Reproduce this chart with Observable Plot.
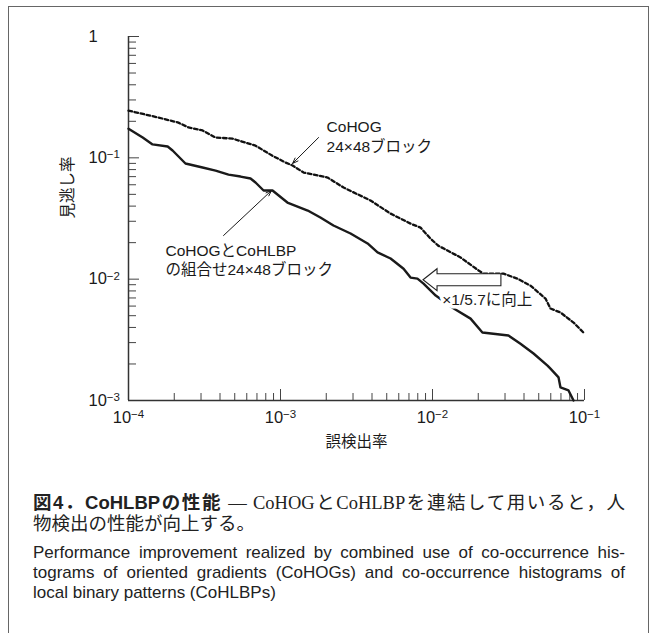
<!DOCTYPE html>
<html>
<head>
<meta charset="utf-8">
<script src="https://cdn.jsdelivr.net/npm/d3@7"></script>
<script src="https://cdn.jsdelivr.net/npm/@observablehq/plot@0.6"></script>
<style>
  html, body { margin: 0; padding: 0; background: #fff; }
  body { width: 653px; height: 633px; position: relative; overflow: hidden; }
  #frame { position: absolute; left: 8px; top: 6px; width: 639px; height: 700px; border: 1px solid #666; border-bottom: none; }
  #chart { position: absolute; left: 0; top: 0; }
  #cap { position: absolute; left: 33px; top: 492px; width: 592px; color: #222; }
  .ja { font-size: 18.5px; line-height: 21px; font-family: "Liberation Serif", "Noto Sans CJK JP", serif; }
  .ja .b { font-family: "Liberation Sans", "Noto Sans CJK JP", sans-serif; font-weight: bold; }
  .en { margin-top: 8px; font-size: 17px; line-height: 20px; font-family: "Liberation Sans", "Noto Sans CJK JP", sans-serif; }
  .just { text-align: justify; text-align-last: justify; white-space: nowrap; }
</style>
</head>
<body>
<div id="frame"></div>
<div id="chart"></div>
<div id="cap">
  <div class="ja just"><span class="b">図4．CoHLBPの性能</span> — CoHOGとCoHLBPを連結して用いると，人</div>
  <div class="ja">物検出の性能が向上する。</div>
  <div class="en">
    <div class="just">Performance improvement realized by combined use of co-occurrence his-</div>
    <div class="just">tograms of oriented gradients (CoHOGs) and co-occurrence histograms of</div>
    <div>local binary patterns (CoHLBPs)</div>
  </div>
</div>
<script>
// ---- data ----
const cohogFPR  = [1.0e-4, 1.57e-4, 2.13e-4, 2.48e-4, 3.07e-4, 3.74e-4, 4.83e-4, 6.85e-4, 8.86e-4, 1.08e-3, 1.20e-3, 1.42e-3, 2.04e-3, 2.60e-3, 3.91e-3, 5.30e-3, 7.17e-3, 8.34e-3, 9.70e-3, 1.09e-2, 1.53e-2, 2.01e-2, 2.17e-2, 2.93e-2, 3.62e-2, 4.41e-2, 5.54e-2, 5.97e-2, 6.95e-2, 8.47e-2, 9.85e-2];
const cohogMiss = [0.245, 0.215, 0.195, 0.178, 0.168, 0.147, 0.144, 0.126, 0.104, 0.0915, 0.0864, 0.0757, 0.0688, 0.0569, 0.0445, 0.0347, 0.0287, 0.0266, 0.0216, 0.0189, 0.0151, 0.0118, 0.0111, 0.0111, 0.0101, 0.00885, 0.00692, 0.00573, 0.00531, 0.00439, 0.00363];

const combFPR  = [1.0e-4, 1.24e-4, 1.44e-4, 1.81e-4, 1.95e-4, 2.37e-4, 3.07e-4, 3.74e-4, 4.55e-4, 5.46e-4, 6.35e-4, 6.85e-4, 7.74e-4, 8.86e-4, 1.11e-3, 1.51e-3, 1.83e-3, 2.23e-3, 2.89e-3, 3.74e-3, 4.35e-3, 5.30e-3, 6.45e-3, 7.17e-3, 7.96e-3, 8.73e-3, 1.05e-2, 1.38e-2, 1.78e-2, 2.13e-2, 3.16e-2, 3.79e-2, 4.62e-2, 5.71e-2, 5.97e-2, 6.75e-2, 6.95e-2, 7.85e-2, 8.47e-2];
const combMiss = [0.174, 0.147, 0.129, 0.124, 0.115, 0.0898, 0.0832, 0.0785, 0.0728, 0.0701, 0.0675, 0.0626, 0.0538, 0.0538, 0.0428, 0.0368, 0.0322, 0.0277, 0.0238, 0.0197, 0.0166, 0.0148, 0.0122, 0.0103, 0.0101, 0.0092, 0.00733, 0.00573, 0.00473, 0.00363, 0.00343, 0.00294, 0.00244, 0.00194, 0.00183, 0.00155, 0.00128, 0.00121, 0.001];

const xDecades = [1e-4, 1e-3, 1e-2, 1e-1];
const xTickLabels = ["10^−4", "10^−3", "10^−2", "10^−1"];
const yDecades = [1e-3, 1e-2, 1e-1, 1];
const yTickLabels = ["10^−3", "10^−2", "10^−1", "1"];
const minorSteps = [2, 3, 4, 5, 6, 7, 8, 9];

const xTitle = "誤検出率";
const yTitle = "見逃し率";

const noteText = ["CoHOG", "24×48ブロック", "CoHOGとCoHLBP", "の組合せ24×48ブロック"];
const noteX    = [2.01e-3, 2.01e-3, 1.75e-4, 1.75e-4];
const noteY    = [0.178, 0.1216, 0.0172, 0.0118];

const gainText = "×1/5.7に向上";
const gainX = 1.16e-2;
const gainY = 0.00679;

const arrowX1 = [1.78e-3, 4.22e-4];
const arrowY1 = [0.147, 0.0229];
const arrowX2 = [1.20e-3, 8.73e-4];
const arrowY2 = [0.0898, 0.0538];

const bigArrowTail = 2.84e-2;
const bigArrowTip = 8.73e-3;
const bigArrowY = 0.0098;

// ---- build tables ----
const cohog = cohogFPR.map((x, i) => ({x, y: cohogMiss[i]}));
const comb = combFPR.map((x, i) => ({x, y: combMiss[i]}));
const xMinor = xDecades.slice(0, -1).flatMap(d => minorSteps.map(k => d * k));
const yMinor = yDecades.slice(0, -1).flatMap(d => minorSteps.map(k => d * k));
const notes = noteText.map((t, i) => ({t, x: noteX[i], y: noteY[i]}));
const arrows = arrowX1.map((x1, i) => ({x1, y1: arrowY1[i], x2: arrowX2[i], y2: arrowY2[i]}));

const W = 653, H = 470, ML = 128, MR = 69, MT = 36, MB = 70;
const PW = W - ML - MR, PH = H - MT - MB;
const ink = "#1a1a1a", axisInk = "#333";
const font = "'Liberation Sans','Noto Sans CJK JP',sans-serif";

const bigArrow = (index, scales) => {
  const tip = scales.x(bigArrowTip), tail = scales.x(bigArrowTail), cy = scales.y(bigArrowY);
  const hl = 14, hw = 11, sw = 6;
  const d = `M${tip},${cy}L${tip+hl},${cy-hw}L${tip+hl},${cy-sw}L${tail},${cy-sw}L${tail},${cy+sw}L${tip+hl},${cy+sw}L${tip+hl},${cy+hw}Z`;
  return d3.create("svg:path").attr("d", d).attr("fill", "#fff").attr("stroke", "#222").attr("stroke-width", 1.1).attr("stroke-linejoin", "miter").node();
};

const chart = Plot.plot({
  width: W, height: H,
  marginLeft: ML, marginRight: MR, marginTop: MT, marginBottom: MB,
  style: {fontFamily: font, fontSize: "15px", color: ink, background: "transparent", overflow: "visible"},
  x: {type: "log", domain: [1e-4, 1e-1], axis: null},
  y: {type: "log", domain: [1e-3, 1], axis: null},
  marks: [
    // ticks (inward)
    Plot.ruleX(xMinor, {x: d => d, insetTop: PH - 7, stroke: "#444", strokeWidth: 1}),
    Plot.ruleX(xDecades, {x: d => d, insetTop: PH - 11, stroke: "#444", strokeWidth: 1}),
    Plot.ruleY(yMinor, {y: d => d, insetRight: PW - 8, stroke: "#444", strokeWidth: 1}),
    Plot.ruleY(yDecades, {y: d => d, insetRight: PW - 11, stroke: "#444", strokeWidth: 1}),
    // axis lines
    Plot.ruleX([1e-4], {stroke: axisInk, strokeWidth: 1.5}),
    Plot.ruleY([1e-3], {stroke: axisInk, strokeWidth: 1.5}),
    // tick labels
    Plot.text(xDecades, {x: d => d, text: (d, i) => xTickLabels[i], frameAnchor: "bottom", dy: 17, textAnchor: "middle", lineAnchor: "middle", fontSize: 16.5, fill: ink}),
    Plot.text(yDecades, {y: d => d, text: (d, i) => yTickLabels[i], frameAnchor: "left", dx: -40, textAnchor: "start", lineAnchor: "middle", fontSize: 16.5, fill: ink}),
    // axis titles
    Plot.text([xTitle], {text: d => d, frameAnchor: "bottom", dy: 46, fontSize: 15.5, fill: ink}),
    Plot.text([yTitle], {text: d => d, frameAnchor: "left", dx: -60, rotate: -90, fontSize: 15.5, fill: ink}),
    // curves
    Plot.line(cohog, {x: "x", y: "y", stroke: "#111", strokeWidth: 2.3, strokeDasharray: "3.6,2.6"}),
    Plot.line(comb, {x: "x", y: "y", stroke: ink, strokeWidth: 2.4}),
    // annotations
    Plot.arrow(arrows, {x1: "x1", y1: "y1", x2: "x2", y2: "y2", stroke: ink, strokeWidth: 1, headLength: 9, headAngle: 40}),
    Plot.text(notes, {x: "x", y: "y", text: "t", textAnchor: "start", lineAnchor: "middle", fontSize: 15.5, fill: ink}),
    bigArrow,
    Plot.text([gainText], {x: () => gainX, y: () => gainY, text: d => d, textAnchor: "start", lineAnchor: "middle", fontSize: 15.5, fill: ink, stroke: "#fff", strokeWidth: 7})
  ]
});

// superscript exponents
chart.querySelectorAll("text").forEach(el => {
  const s = el.textContent;
  if (s.includes("^")) {
    const [b, e] = s.split("^");
    el.textContent = "";
    const t1 = document.createElementNS("http://www.w3.org/2000/svg", "tspan");
    t1.textContent = b;
    const t2 = document.createElementNS("http://www.w3.org/2000/svg", "tspan");
    t2.textContent = e;
    t2.setAttribute("dy", "-0.42em");
    t2.setAttribute("font-size", "11.5px");
    el.appendChild(t1); el.appendChild(t2);
  }
});

document.getElementById("chart").appendChild(chart);
</script>
</body>
</html>
